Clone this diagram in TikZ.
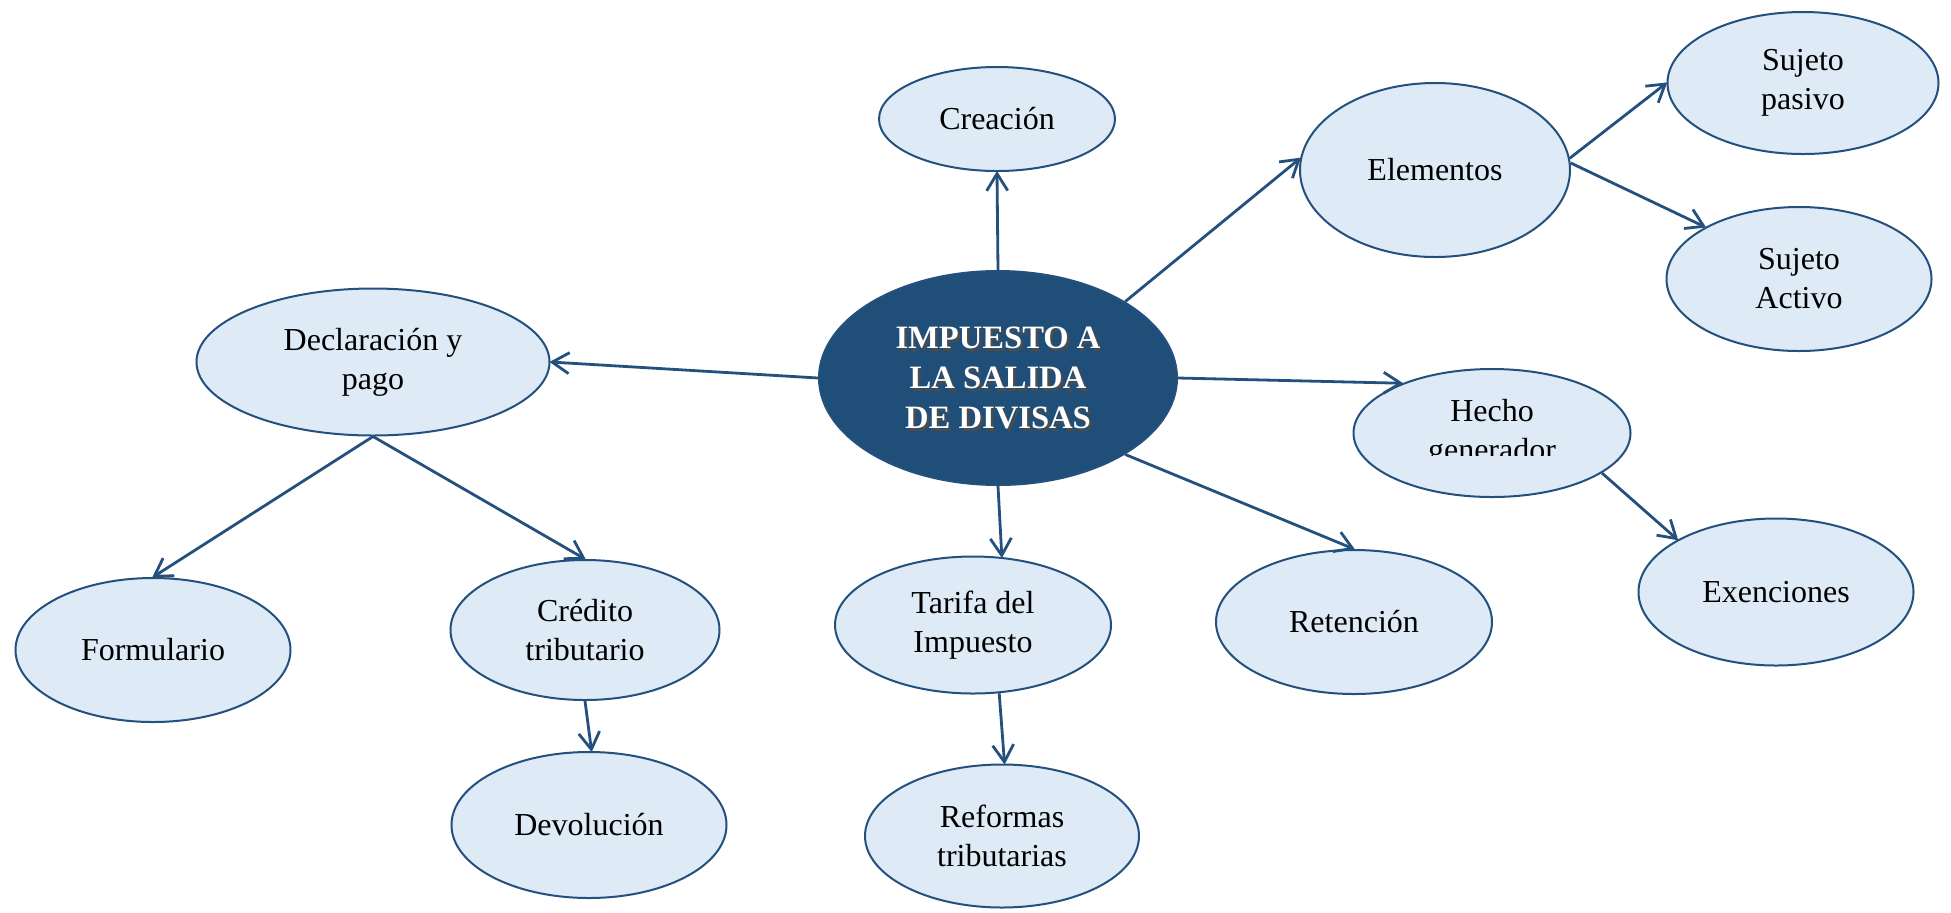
\documentclass[tikz,border=0pt]{standalone}
\usepackage{fontspec}
\setmainfont{Liberation Serif}
\usetikzlibrary{shapes.geometric,arrows.meta}
\definecolor{bubble}{RGB}{222,234,246}
\definecolor{edge}{RGB}{36,80,126}
\definecolor{core}{RGB}{31,78,121}
\tikzset{
  topic/.style={ellipse, draw=edge, line width=1pt, fill=bubble, inner sep=0pt,
    align=center, font=\fontsize{16}{19.5}\selectfont},
  dims/.style 2 args={minimum width=#1pt, minimum height=#2pt},
  link/.style={draw=edge, line width=1.4pt, shorten >=-0.5pt,
    -{Straight Barb[length=8.5pt,width=10.5pt,line width=1.4pt]}},
  coretext/.style={align=center, inner sep=0pt,
    font=\fontsize{16.3}{20}\selectfont\bfseries},
}
\begin{document}
\begin{tikzpicture}[x=0.5pt,y=-0.5pt]
\useasboundingbox (0,0) rectangle (1951,912);

% central topic
\node[ellipse, fill=core, draw=edge, line width=1pt, inner sep=0pt, dims={179}{107}] (core) at (998,378) {};
\node[coretext, text=black!70] (coreshade) at (1000.5,381) {IMPUESTO A\\LA SALIDA\\DE DIVISAS};
\node[coretext, text=white] (corelabel) at (998,378) {IMPUESTO A\\LA SALIDA\\DE DIVISAS};

% branches
\node[topic, dims={118}{52}] (crea) at (997,119) {Creación};
\node[topic, dims={135}{87}] (elem) at (1435,170) {Elementos};
\node[topic, dims={135.5}{71}] (pasivo) at (1803,83) {Sujeto\\pasivo};
\node[topic, dims={132.5}{72}] (activo) at (1799,279) {Sujeto\\Activo};
\node[topic, dims={176.5}{73.5}] (decl) at (373,362) {Declaración y\\pago};
\node[topic, dims={137.5}{72}] (form) at (153,650) {Formulario};
\node[topic, dims={134.5}{70}] (cred) at (585,630) {Crédito\\tributario};
\node[topic, dims={137.5}{73}] (devol) at (589,825) {Devolución};
\node[topic, dims={138}{68.5}] (tarifa) at (973,625) {Tarifa del\\Impuesto};
\node[topic, dims={137}{71.5}] (reform) at (1002,836) {Reformas\\tributarias};
\node[topic, dims={138}{72}] (reten) at (1354,622) {Retención};
\node[topic, dims={138.5}{64}] (hecho) at (1492,433) {};
\begin{scope}
  \clip (1380,380) rectangle (1610,455);
  \node[align=center, inner sep=0pt, font=\fontsize{16}{19.5}\selectfont] (hechotext) at (1492,433) {Hecho\\generador};
\end{scope}
\node[topic, dims={137.5}{73.5}] (exen) at (1776,592) {Exenciones};

% connectors
\draw[link] (core.north) -- (crea.south);
\draw[link] (core.31.5) -- (elem.175);
\draw[link] (elem.5) -- (pasivo.west);
\draw[link] (elem.3) -- (activo.151);
\draw[link] (core.east) -- (hecho.151);
\draw[link] (hecho.-20) -- (exen.152);
\draw[link] (core.-31.5) -- (reten.north);
\draw[link] (core.south) -- (tarifa.67);
\draw[link] (tarifa.-69) -- (reform.88);
\draw[link] (core.west) -- (decl.east);
\draw[link] (decl.south) -- (form.north);
\draw[link] (decl.south) -- (cred.north);
\draw[link] (cred.south) -- (devol.88);
\end{tikzpicture}
\end{document}
